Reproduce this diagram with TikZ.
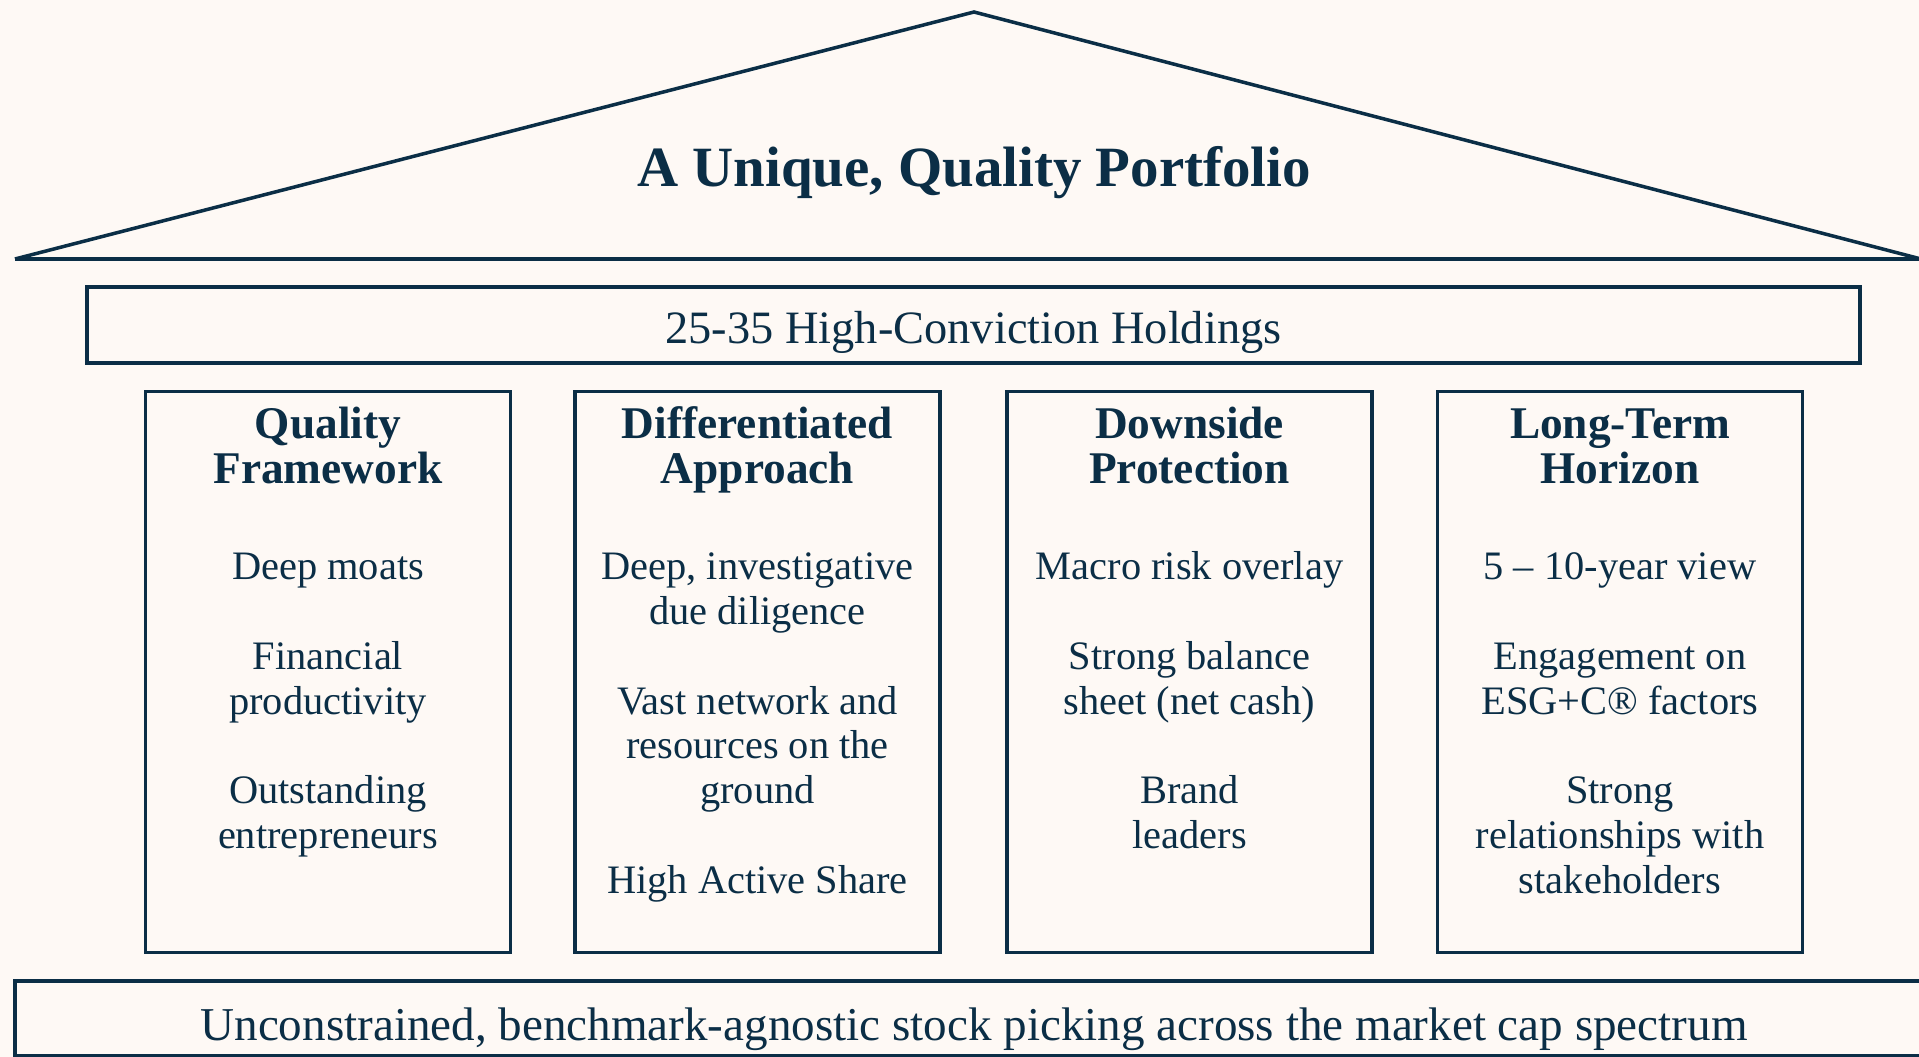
\documentclass[tikz,border=0pt]{standalone}
\usepackage{fontspec}
\setmainfont{Liberation Serif}
\usepackage{xcolor}
\usetikzlibrary{positioning}

\definecolor{navy}{HTML}{0B2E46}
\definecolor{cream}{HTML}{FEF9F5}

% lines of a pillar, baseline on the first line
\newcommand{\pillarlines}[1]{\begin{tabular}[t]{@{}c@{}}#1\end{tabular}}

\tikzset{
    beam/.style={draw, line width=1pt, minimum height=0.76cm, inner sep=0pt, text depth=0pt},
    pillar/.style={draw, line width=1pt, minimum width=3.65cm, minimum height=5.61cm},
    pillarhead/.style={anchor=base, inner sep=0pt, font=\fontsize{12.9}{12.8}\selectfont\bfseries},
    pillartext/.style={anchor=base, inner sep=0pt, font=\fontsize{11.5}{12.75}\selectfont}
}

\begin{document}
\begin{tikzpicture}[color=navy]
    % Background and page size
    \fill[cream] (0,0) rectangle (19.19,-10.57);
    \useasboundingbox (0,0) rectangle (19.19,-10.57);

    % Draw the roof
    \coordinate (eaveL) at (0.15,-2.59);
    \coordinate (ridge) at (9.74,-0.12);
    \coordinate (eaveR) at (19.21,-2.59);
    \draw[line width=1pt] (eaveL) -- (ridge) -- (eaveR);
    \draw[line width=1pt] (eaveL) -- (eaveR);

    % Label the roof
    \node[anchor=base, inner sep=0pt, font=\fontsize{16.2}{18}\selectfont\bfseries] (title) at (9.74,-1.87) {A Unique, Quality Portfolio};

    % Draw the holdings beam
    \node[beam, minimum width=17.73cm, text height=10.8pt, font=\fontsize{13.2}{14}\selectfont] (holdings) at (9.735,-3.25) {25-35 High-Conviction Holdings};

    % Draw the four pillars
    \node[pillar] (quality) at (3.28,-6.72) {};
    \node[pillar] (approach) at (7.575,-6.72) {};
    \node[pillar] (downside) at (11.895,-6.72) {};
    \node[pillar] (horizon) at (16.2,-6.72) {};

    % Pillar headings
    \node[pillarhead] (qualityhead) at ([yshift=-0.485cm]quality.north) {\pillarlines{Quality\\Framework}};
    \node[pillarhead] (approachhead) at ([yshift=-0.485cm]approach.north) {\pillarlines{Differentiated\\Approach}};
    \node[pillarhead] (downsidehead) at ([yshift=-0.485cm]downside.north) {\pillarlines{Downside\\Protection}};
    \node[pillarhead] (horizonhead) at ([yshift=-0.485cm]horizon.north) {\pillarlines{Long-Term\\Horizon}};

    % Pillar texts
    \node[pillartext] (qualitytext) at ([yshift=-1.9cm]quality.north)
        {\pillarlines{Deep moats\\[12.75pt] Financial\\productivity\\[12.75pt] Outstanding\\entrepreneurs}};
    \node[pillartext] (approachtext) at ([yshift=-1.9cm]approach.north)
        {\pillarlines{Deep, investigative\\due diligence\\[12.75pt] Vast network and\\resources on the\\ground\\[12.75pt] High Active Share}};
    \node[pillartext] (downsidetext) at ([yshift=-1.9cm]downside.north)
        {\pillarlines{Macro risk overlay\\[12.75pt] Strong balance\\sheet (net cash)\\[12.75pt] Brand\\leaders}};
    \node[pillartext] (horizontext) at ([yshift=-1.9cm]horizon.north)
        {\pillarlines{5 – 10-year view\\[12.75pt] Engagement on\\ESG+C® factors\\[12.75pt] Strong\\relationships with\\stakeholders}};

    % Draw the foundation
    \node[beam, minimum width=19.18cm, minimum height=0.745cm, text height=12.6pt, font=\fontsize{13.4}{14}\selectfont] (ground) at (9.74,-10.183) {Unconstrained, benchmark-agnostic stock picking across the market cap spectrum};
\end{tikzpicture}
\end{document}
